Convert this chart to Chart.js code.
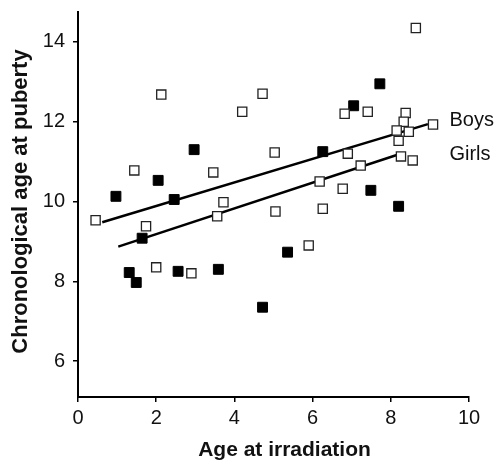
<!DOCTYPE html>
<html>
<head>
<meta charset="utf-8">
<script src="https://cdn.jsdelivr.net/npm/chart.js@4/dist/chart.umd.min.js"></script>
<style>
  body { margin: 0; background: #fff; }
</style>
</head>
<body>
<canvas id="chart" width="498" height="462"></canvas>
<script>
// tick values
const xTicks = [0, 2, 4, 6, 8, 10];
const yTicks = [6, 8, 10, 12, 14];

// filled squares
const filledX = [2.97, 2.05, 0.97, 2.46, 1.64, 1.31, 1.49, 2.56, 3.59, 4.72, 5.36, 7.72, 7.05, 6.26, 7.49, 8.2];
const filledY = [11.3, 10.53, 10.13, 10.05, 9.08, 8.22, 7.97, 8.25, 8.3, 7.35, 8.73, 12.95, 12.4, 11.25, 10.28, 9.88];

// open squares
const openX = [0.45, 1.44, 2.13, 4.2, 4.72, 5.03, 3.46, 8.64, 6.82, 7.41, 8.38, 8.33, 8.15, 8.46, 8.2,
  9.08, 6.9, 7.23, 8.26, 8.56, 6.18, 6.77, 1.74, 3.72, 3.56, 5.05, 2.0, 2.9, 6.26, 5.9];
const openY = [9.53, 10.78, 12.68, 12.25, 12.7, 11.23, 10.73, 14.35, 12.2, 12.25, 12.22, 12.0, 11.78, 11.75, 11.52,
  11.93, 11.2, 10.9, 11.13, 11.03, 10.5, 10.32, 9.38, 9.98, 9.63, 9.75, 8.35, 8.2, 9.82, 8.9];

// regression lines
const lineNames = ['Boys', 'Girls'];
const boysX = [0.62, 8.95];
const boysY = [9.48, 11.94];
const girlsX = [1.03, 8.23];
const girlsY = [8.87, 11.19];

const pts = (xs, ys) => xs.map((x, i) => ({ x, y: ys[i] }));
const FONT = "'Liberation Sans', Arial, Helvetica, sans-serif";

// labels "Boys"/"Girls" to the right of the lines, and the axis titles
const annotate = {
  id: 'annotate',
  afterDraw(chart) {
    const { ctx, chartArea, scales } = chart;
    ctx.save();
    ctx.fillStyle = '#111';
    ctx.font = '20px ' + FONT;
    ctx.textAlign = 'left';
    ctx.textBaseline = 'middle';
    const lx = scales.x.getPixelForValue(9.5);
    ctx.fillText(lineNames[0], lx, scales.y.getPixelForValue(boysY[1]) - 4);
    ctx.fillText(lineNames[1], lx, scales.y.getPixelForValue(girlsY[1]));

    ctx.font = 'bold 21px ' + FONT;
    ctx.textAlign = 'center';
    ctx.fillText('Age at irradiation', chartArea.left + (chartArea.right - chartArea.left) / 2 + 11, 450);

    ctx.font = 'bold 22px ' + FONT;
    ctx.translate(21, (chartArea.top + chartArea.bottom) / 2 - 3);
    ctx.rotate(-Math.PI / 2);
    ctx.fillText('Chronological age at puberty', 0, 0);
    ctx.restore();
  }
};

const axisStyle = {
  grid: { display: true, drawOnChartArea: false, drawTicks: true, tickLength: 5, color: '#000', lineWidth: 1.5 },
  border: { display: true, color: '#000', width: 2 },
};

new Chart(document.getElementById('chart'), {
  type: 'scatter',
  data: {
    datasets: [
      { label: 'Boys line', type: 'line', data: pts(boysX, boysY), borderColor: '#000', borderWidth: 2.5,
        pointRadius: 0, fill: false, order: 2 },
      { label: 'Girls line', type: 'line', data: pts(girlsX, girlsY), borderColor: '#000', borderWidth: 2.5,
        pointRadius: 0, fill: false, order: 2 },
      { label: 'open', data: pts(openX, openY), pointStyle: 'rect', pointRadius: 6.5,
        backgroundColor: '#fff', borderColor: '#222', borderWidth: 1.3, order: 1 },
      { label: 'filled', data: pts(filledX, filledY), pointStyle: 'rect', pointRadius: 7,
        backgroundColor: '#000', borderColor: '#000', borderWidth: 1, order: 1 },
    ]
  },
  options: {
    responsive: false,
    animation: false,
    layout: { padding: { top: 12, right: 29, bottom: 0, left: 0 } },
    plugins: { legend: { display: false }, tooltip: { enabled: false } },
    scales: {
      x: {
        type: 'linear', min: 0, max: 10,
        ...axisStyle,
        afterBuildTicks: s => { s.ticks = xTicks.map(v => ({ value: v })); },
        afterFit: s => { s.height = 65; s.paddingLeft = 0; s.paddingRight = 0; },
        ticks: { font: { family: FONT, size: 20 }, color: '#111', padding: 4, maxRotation: 0 },
      },
      y: {
        type: 'linear', min: 5.1, max: 14.75,
        ...axisStyle,
        afterBuildTicks: s => { s.ticks = yTicks.map(v => ({ value: v })); },
        afterFit: s => { s.width = 78; s.paddingTop = 0; s.paddingBottom = 0; },
        ticks: { font: { family: FONT, size: 20 }, color: '#111', padding: 8 },
      }
    }
  },
  plugins: [annotate]
});
</script>
</body>
</html>
